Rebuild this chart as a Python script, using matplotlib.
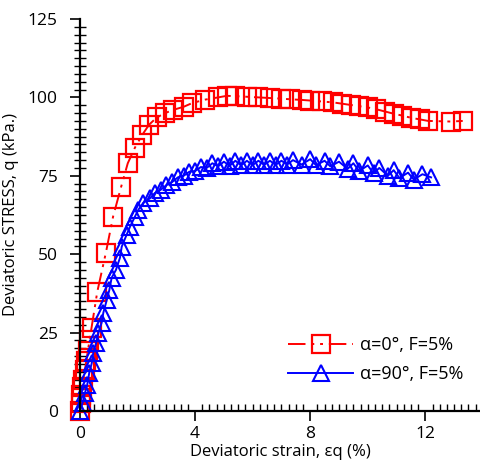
import matplotlib
matplotlib.use("Agg")
import matplotlib.pyplot as plt
from matplotlib.ticker import MultipleLocator

plt.rcParams["font.family"] = ["Open Sans", "DejaVu Sans"]

# alpha = 0 deg, F = 5 %
strain_0 = [0.0, 0.02, 0.05, 0.08, 0.12, 0.17, 0.22, 0.27, 0.33, 0.40, 0.60, 0.90,
            1.15, 1.43, 1.66, 1.91, 2.16, 2.40, 2.67, 2.96, 3.23, 3.60, 3.90, 4.35,
            4.80, 5.10, 5.40, 5.80, 6.20, 6.60, 7.00, 7.30, 7.70, 8.00, 8.40, 8.80,
            9.10, 9.40, 9.70, 10.00, 10.30, 10.60, 10.90, 11.20, 11.50, 11.80, 12.10,
            12.90, 13.30]
stress_0 = [0.0, 2.5, 5.0, 7.5, 10.0, 13.0, 16.0, 19.0, 22.5, 26.5, 38.0, 50.5,
            62.0, 71.5, 79.0, 84.0, 88.0, 91.3, 93.6, 95.0, 96.0, 97.0, 98.2, 99.3,
            100.0, 100.5, 100.4, 100.2, 100.0, 99.8, 99.6, 99.4, 99.2, 99.0, 98.7,
            98.4, 98.0, 97.6, 97.2, 96.8, 96.2, 95.5, 94.8, 94.2, 93.5, 93.0, 92.5,
            92.3, 92.5]

# alpha = 90 deg, F = 5 %
strain_90 = [0.0, 0.09, 0.17, 0.25, 0.32, 0.41, 0.46, 0.56, 0.64, 0.75, 0.81, 0.93,
             1.02, 1.10, 1.25, 1.39, 1.45, 1.62, 1.74, 1.91, 2.03, 2.20, 2.43, 2.60,
             2.80, 3.00, 3.20, 3.40, 3.60, 3.80, 4.00, 4.20, 4.40, 4.60, 4.80, 5.00,
             5.20, 5.40, 5.60, 5.80, 6.00, 6.20, 6.40, 6.60, 6.80, 7.00, 7.20, 7.40,
             7.70, 8.00, 8.20, 8.50, 8.70, 9.00, 9.30, 9.50, 9.70, 10.00, 10.20,
             10.40, 10.70, 10.90, 11.10, 11.40, 11.60, 11.90, 12.20]
stress_90 = [0.0, 2.6, 5.7, 8.3, 12.1, 15.3, 18.5, 21.7, 24.9, 28.1, 31.3, 35.4,
             38.6, 42.5, 45.0, 48.9, 52.4, 56.2, 58.8, 62.0, 64.2, 66.4, 67.8, 69.5,
             70.5, 72.0, 73.0, 74.5, 75.0, 76.3, 76.5, 77.8, 77.5, 79.0, 78.0, 79.5,
             78.2, 79.8, 78.3, 79.8, 78.4, 79.8, 78.5, 79.8, 78.5, 79.8, 78.6, 80.0,
             78.6, 80.3, 78.4, 79.8, 78.0, 79.5, 77.2, 79.0, 76.5, 78.3, 75.8, 77.5,
             75.0, 76.8, 74.3, 76.0, 73.8, 75.5, 74.5]

fig = plt.figure(figsize=(4.8, 4.66), dpi=100)
ax = fig.add_axes([80 / 480, 1 - 411 / 466, 400 / 480, 392 / 466])

ax.plot(strain_0, stress_0, color="#ff0000", linewidth=1.4, dashes=(9, 3, 1.5, 3, 1.5, 3),
        marker="s", markersize=13.5, markerfacecolor="none", markeredgecolor="#ff0000",
        markeredgewidth=1.6, clip_on=False, label="α=0°, F=5%")
ax.plot(strain_90, stress_90, color="#0000ff", linewidth=1.4, linestyle="-",
        marker="^", markersize=11.5, markerfacecolor="none", markeredgecolor="#0000ff",
        markeredgewidth=1.5, clip_on=False, label="α=90°, F=5%")

ax.set_xlim(0, 13.9)
ax.set_ylim(0, 125)
ax.xaxis.set_major_locator(MultipleLocator(4))
ax.xaxis.set_minor_locator(MultipleLocator(0.25))
ax.yaxis.set_major_locator(MultipleLocator(25))
ax.yaxis.set_minor_locator(MultipleLocator(2.5))

for s in ("top", "right"):
    ax.spines[s].set_visible(False)
for s in ("left", "bottom"):
    ax.spines[s].set_linewidth(1.6)
    ax.spines[s].set_color("black")

ax.tick_params(axis="x", which="major", direction="out", length=7, width=1.2, labelsize=12.5, pad=4)
ax.tick_params(axis="x", which="minor", direction="in", length=5, width=1.0)
ax.tick_params(axis="y", which="major", direction="out", length=7, width=1.2, labelsize=12.5, pad=9)
ax.tick_params(axis="y", which="minor", direction="inout", length=8, width=1.0)

ax.set_xlabel("Deviatoric strain, εq (%)", fontsize=12, labelpad=1)
ax.set_ylabel("Deviatoric STRESS, q (kPa.)", fontsize=12, labelpad=6)

ax.legend(loc="lower right", bbox_to_anchor=(1.0, 0.03), frameon=False, fontsize=13,
          handlelength=3.6, handletextpad=0.4, labelspacing=0.6)

fig.savefig("out.png", dpi=100, facecolor="white")
